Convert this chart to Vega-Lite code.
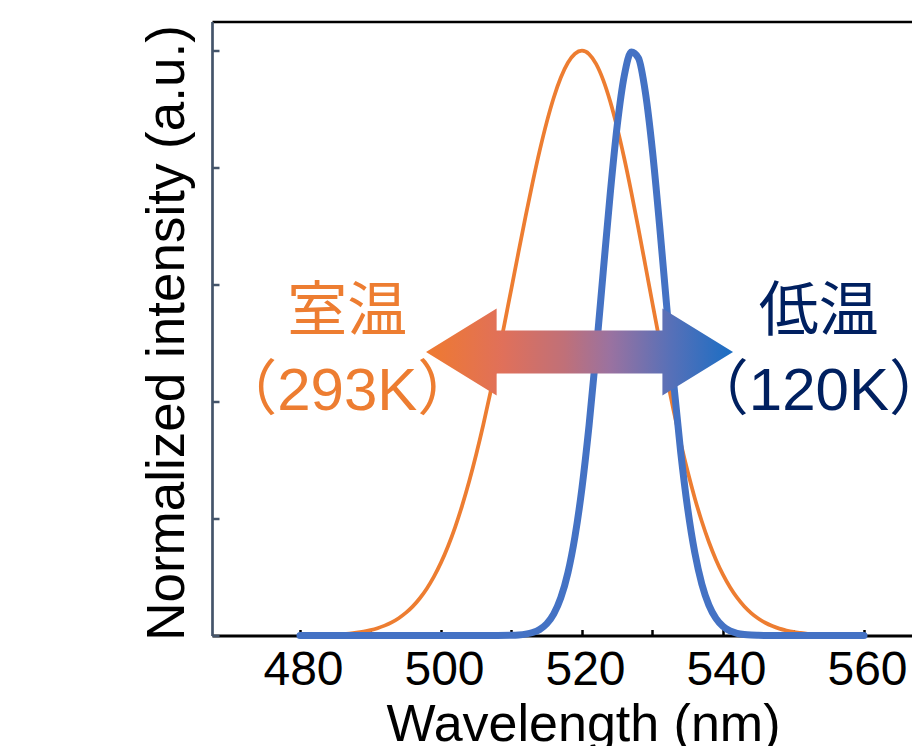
{
  "$schema": "https://vega.github.io/schema/vega-lite/v6.json",
  "width": 700,
  "height": 614,
  "autosize": {"type": "none"},
  "padding": {"left": 212, "top": 21.5, "right": 0, "bottom": 110.5},
  "background": "white",
  "config": {
    "view": {"stroke": null},
    "font": "Liberation Sans"
  },
  "datasets": {
    "spectra": [
      {"nm": 480, "intensity": 0.0002, "sample": "293K"},
      {"nm": 481, "intensity": 0.0004, "sample": "293K"},
      {"nm": 482, "intensity": 0.0005, "sample": "293K"},
      {"nm": 483, "intensity": 0.0008, "sample": "293K"},
      {"nm": 484, "intensity": 0.0012, "sample": "293K"},
      {"nm": 485, "intensity": 0.0017, "sample": "293K"},
      {"nm": 486, "intensity": 0.0024, "sample": "293K"},
      {"nm": 487, "intensity": 0.0034, "sample": "293K"},
      {"nm": 488, "intensity": 0.0048, "sample": "293K"},
      {"nm": 489, "intensity": 0.0067, "sample": "293K"},
      {"nm": 490, "intensity": 0.0092, "sample": "293K"},
      {"nm": 491, "intensity": 0.0125, "sample": "293K"},
      {"nm": 492, "intensity": 0.0169, "sample": "293K"},
      {"nm": 493, "intensity": 0.0225, "sample": "293K"},
      {"nm": 494, "intensity": 0.0296, "sample": "293K"},
      {"nm": 495, "intensity": 0.0386, "sample": "293K"},
      {"nm": 496, "intensity": 0.0498, "sample": "293K"},
      {"nm": 497, "intensity": 0.0637, "sample": "293K"},
      {"nm": 498, "intensity": 0.0805, "sample": "293K"},
      {"nm": 499, "intensity": 0.1007, "sample": "293K"},
      {"nm": 500, "intensity": 0.1246, "sample": "293K"},
      {"nm": 501, "intensity": 0.1527, "sample": "293K"},
      {"nm": 502, "intensity": 0.1851, "sample": "293K"},
      {"nm": 503, "intensity": 0.2221, "sample": "293K"},
      {"nm": 504, "intensity": 0.2637, "sample": "293K"},
      {"nm": 505, "intensity": 0.3099, "sample": "293K"},
      {"nm": 506, "intensity": 0.3604, "sample": "293K"},
      {"nm": 507, "intensity": 0.4149, "sample": "293K"},
      {"nm": 508, "intensity": 0.4725, "sample": "293K"},
      {"nm": 509, "intensity": 0.5326, "sample": "293K"},
      {"nm": 510, "intensity": 0.5942, "sample": "293K"},
      {"nm": 511, "intensity": 0.6559, "sample": "293K"},
      {"nm": 512, "intensity": 0.7166, "sample": "293K"},
      {"nm": 513, "intensity": 0.7748, "sample": "293K"},
      {"nm": 514, "intensity": 0.8291, "sample": "293K"},
      {"nm": 515, "intensity": 0.8779, "sample": "293K"},
      {"nm": 516, "intensity": 0.9201, "sample": "293K"},
      {"nm": 517, "intensity": 0.9542, "sample": "293K"},
      {"nm": 518, "intensity": 0.9794, "sample": "293K"},
      {"nm": 519, "intensity": 0.9948, "sample": "293K"},
      {"nm": 520, "intensity": 1.0, "sample": "293K"},
      {"nm": 521, "intensity": 0.9944, "sample": "293K"},
      {"nm": 522, "intensity": 0.9776, "sample": "293K"},
      {"nm": 523, "intensity": 0.9503, "sample": "293K"},
      {"nm": 524, "intensity": 0.9134, "sample": "293K"},
      {"nm": 525, "intensity": 0.8681, "sample": "293K"},
      {"nm": 526, "intensity": 0.8157, "sample": "293K"},
      {"nm": 527, "intensity": 0.7579, "sample": "293K"},
      {"nm": 528, "intensity": 0.6962, "sample": "293K"},
      {"nm": 529, "intensity": 0.6323, "sample": "293K"},
      {"nm": 530, "intensity": 0.5678, "sample": "293K"},
      {"nm": 531, "intensity": 0.5042, "sample": "293K"},
      {"nm": 532, "intensity": 0.4427, "sample": "293K"},
      {"nm": 533, "intensity": 0.3843, "sample": "293K"},
      {"nm": 534, "intensity": 0.3299, "sample": "293K"},
      {"nm": 535, "intensity": 0.2799, "sample": "293K"},
      {"nm": 536, "intensity": 0.2349, "sample": "293K"},
      {"nm": 537, "intensity": 0.1949, "sample": "293K"},
      {"nm": 538, "intensity": 0.1599, "sample": "293K"},
      {"nm": 539, "intensity": 0.1297, "sample": "293K"},
      {"nm": 540, "intensity": 0.104, "sample": "293K"},
      {"nm": 541, "intensity": 0.0825, "sample": "293K"},
      {"nm": 542, "intensity": 0.0646, "sample": "293K"},
      {"nm": 543, "intensity": 0.0501, "sample": "293K"},
      {"nm": 544, "intensity": 0.0384, "sample": "293K"},
      {"nm": 545, "intensity": 0.0291, "sample": "293K"},
      {"nm": 546, "intensity": 0.0218, "sample": "293K"},
      {"nm": 547, "intensity": 0.0162, "sample": "293K"},
      {"nm": 548, "intensity": 0.0118, "sample": "293K"},
      {"nm": 549, "intensity": 0.0086, "sample": "293K"},
      {"nm": 550, "intensity": 0.0061, "sample": "293K"},
      {"nm": 551, "intensity": 0.0044, "sample": "293K"},
      {"nm": 552, "intensity": 0.003, "sample": "293K"},
      {"nm": 553, "intensity": 0.0021, "sample": "293K"},
      {"nm": 554, "intensity": 0.0014, "sample": "293K"},
      {"nm": 555, "intensity": 0.001, "sample": "293K"},
      {"nm": 556, "intensity": 0.0007, "sample": "293K"},
      {"nm": 557, "intensity": 0.0004, "sample": "293K"},
      {"nm": 558, "intensity": 0.0003, "sample": "293K"},
      {"nm": 559, "intensity": 0.0002, "sample": "293K"},
      {"nm": 560, "intensity": 0.0001, "sample": "293K"},
      {"nm": 480, "intensity": 0, "sample": "120K"},
      {"nm": 485, "intensity": 0, "sample": "120K"},
      {"nm": 490, "intensity": 0, "sample": "120K"},
      {"nm": 495, "intensity": 0, "sample": "120K"},
      {"nm": 500, "intensity": 0, "sample": "120K"},
      {"nm": 505, "intensity": 0, "sample": "120K"},
      {"nm": 508, "intensity": 0.0001, "sample": "120K"},
      {"nm": 510, "intensity": 0.0004, "sample": "120K"},
      {"nm": 511, "intensity": 0.001, "sample": "120K"},
      {"nm": 512, "intensity": 0.0024, "sample": "120K"},
      {"nm": 513, "intensity": 0.0051, "sample": "120K"},
      {"nm": 514, "intensity": 0.0104, "sample": "120K"},
      {"nm": 515, "intensity": 0.0201, "sample": "120K"},
      {"nm": 516, "intensity": 0.037, "sample": "120K"},
      {"nm": 517, "intensity": 0.0646, "sample": "120K"},
      {"nm": 518, "intensity": 0.1071, "sample": "120K"},
      {"nm": 519, "intensity": 0.1688, "sample": "120K"},
      {"nm": 520, "intensity": 0.2525, "sample": "120K"},
      {"nm": 521, "intensity": 0.3588, "sample": "120K"},
      {"nm": 522, "intensity": 0.4841, "sample": "120K"},
      {"nm": 523, "intensity": 0.6203, "sample": "120K"},
      {"nm": 524, "intensity": 0.7548, "sample": "120K"},
      {"nm": 525, "intensity": 0.8723, "sample": "120K"},
      {"nm": 526, "intensity": 0.9573, "sample": "120K"},
      {"nm": 527, "intensity": 0.9977, "sample": "120K"},
      {"nm": 528, "intensity": 0.9874, "sample": "120K"},
      {"nm": 529, "intensity": 0.9281, "sample": "120K"},
      {"nm": 530, "intensity": 0.8284, "sample": "120K"},
      {"nm": 531, "intensity": 0.7022, "sample": "120K"},
      {"nm": 532, "intensity": 0.5653, "sample": "120K"},
      {"nm": 533, "intensity": 0.4321, "sample": "120K"},
      {"nm": 534, "intensity": 0.3137, "sample": "120K"},
      {"nm": 535, "intensity": 0.2163, "sample": "120K"},
      {"nm": 536, "intensity": 0.1416, "sample": "120K"},
      {"nm": 537, "intensity": 0.088, "sample": "120K"},
      {"nm": 538, "intensity": 0.052, "sample": "120K"},
      {"nm": 539, "intensity": 0.0292, "sample": "120K"},
      {"nm": 540, "intensity": 0.0155, "sample": "120K"},
      {"nm": 541, "intensity": 0.0079, "sample": "120K"},
      {"nm": 542, "intensity": 0.0038, "sample": "120K"},
      {"nm": 543, "intensity": 0.0017, "sample": "120K"},
      {"nm": 544, "intensity": 0.0007, "sample": "120K"},
      {"nm": 545, "intensity": 0.0003, "sample": "120K"},
      {"nm": 546, "intensity": 0.0001, "sample": "120K"},
      {"nm": 550, "intensity": 0, "sample": "120K"},
      {"nm": 555, "intensity": 0, "sample": "120K"},
      {"nm": 560, "intensity": 0, "sample": "120K"}
    ],
    "notes": [
      {"label": "室温", "nm": 486.7, "intensity": 0.5207, "sample": "293K"},
      {"label": "（293K）", "nm": 486.7, "intensity": 0.3856, "sample": "293K"},
      {"label": "低温", "nm": 553.6, "intensity": 0.5207, "sample": "120K"},
      {"label": "（120K）", "nm": 553.6, "intensity": 0.3856, "sample": "120K"}
    ],
    "shift": [
      {"nm": 519.65, "intensity": 0.4848}
    ]
  },
  "encoding": {
    "y": {
      "field": "intensity", "type": "quantitative",
      "scale": {"domain": [0, 1.05], "nice": false},
      "axis": {
        "title": "Normalized intensity (a.u.)",
        "titleFont": "Liberation Sans",
        "titleFontSize": 53,
        "titleFontWeight": "normal",
        "titleColor": "#000000",
        "titleAngle": 270,
        "titleX": -29,
        "titleY": 311,
        "titleAlign": "center",
        "titleBaseline": "alphabetic",
        "values": [0, 0.2, 0.4, 0.6, 0.8, 1.0],
        "labels": false,
        "domainColor": "#44546A",
        "domainWidth": 2.7,
        "tickColor": "#44546A",
        "tickWidth": 2.5,
        "tickSize": -7,
        "grid": false
      }
    }
  },
  "layer": [
    {
      "data": {"name": "spectra"},
      "transform": [{"filter": "datum.sample === '293K'"}],
      "mark": {"type": "line", "color": "#ED7D31", "strokeWidth": 3.75, "interpolate": "monotone", "strokeCap": "round"},
      "encoding": {
        "x": {
          "field": "nm", "type": "quantitative",
          "scale": {"domain": [467.52, 566.81], "nice": false, "zero": false},
          "axis": {
            "orient": "bottom",
            "title": "Wavelength (nm)",
            "titleFont": "Liberation Sans",
            "titleFontSize": 52,
            "titleFontWeight": "normal",
            "titleColor": "#000000",
            "titleX": 371,
            "titleY": 105,
            "titleAlign": "center",
            "titleBaseline": "alphabetic",
            "values": [480, 490, 500, 510, 520, 530, 540, 550, 560],
            "labelExpr": "datum.value % 20 === 0 ? datum.label : ''",
            "labelFont": "Liberation Sans",
            "labelFontSize": 48,
            "labelColor": "#000000",
            "labelBaseline": "alphabetic",
            "labelPadding": 54.5,
            "labelOffset": 3,
            "labelFlush": false,
            "labelOverlap": false,
            "labelBound": false,
            "domainColor": "#000000",
            "domainWidth": 3,
            "tickColor": "#000000",
            "tickWidth": 2.5,
            "tickSize": -6,
            "grid": false
          }
        }
      }
    },
    {
      "data": {"name": "spectra"},
      "transform": [{"filter": "datum.sample === '120K'"}],
      "mark": {"type": "line", "color": "#4472C4", "strokeWidth": 7, "interpolate": "monotone", "strokeCap": "round", "strokeJoin": "round"},
      "encoding": {
        "x": {"field": "nm", "type": "quantitative", "axis": null}
      }
    },
    {
      "data": {"name": "notes"},
      "mark": {"type": "text", "font": "'Liberation Sans', 'Noto Sans CJK JP'", "fontSize": 60, "align": "center", "baseline": "alphabetic"},
      "encoding": {
        "x": {
          "field": "nm", "type": "quantitative",
          "axis": {
            "orient": "top",
            "title": null,
            "labels": false,
            "ticks": false,
            "grid": false,
            "domain": true,
            "domainColor": "#000000",
            "domainWidth": 2.3
          }
        },
        "text": {"field": "label"},
        "color": {
          "field": "sample", "type": "nominal",
          "scale": {"domain": ["293K", "120K"], "range": ["#ED7D31", "#002060"]},
          "legend": null
        }
      }
    },
    {
      "data": {"name": "shift"},
      "mark": {
        "type": "point",
        "shape": "M -1 0 L -0.54 -0.283 L -0.54 -0.14 L 0.54 -0.14 L 0.54 -0.283 L 1 0 L 0.54 0.283 L 0.54 0.14 L -0.54 0.14 L -0.54 0.283 Z",
        "size": 94249,
        "filled": true,
        "opacity": 1,
        "strokeWidth": 0,
        "fill": {
          "gradient": "linear",
          "x1": 0, "y1": 0, "x2": 1, "y2": 0,
          "stops": [
            {"offset": 0, "color": "#EF7A30"},
            {"offset": 0.25, "color": "#E0705A"},
            {"offset": 0.45, "color": "#C07078"},
            {"offset": 0.6, "color": "#9A72A0"},
            {"offset": 0.8, "color": "#5670B8"},
            {"offset": 1, "color": "#1A6EC4"}
          ]
        }
      },
      "encoding": {
        "x": {"field": "nm", "type": "quantitative", "axis": null}
      }
    }
  ],
  "resolve": {"axis": {"x": "independent"}}
}
